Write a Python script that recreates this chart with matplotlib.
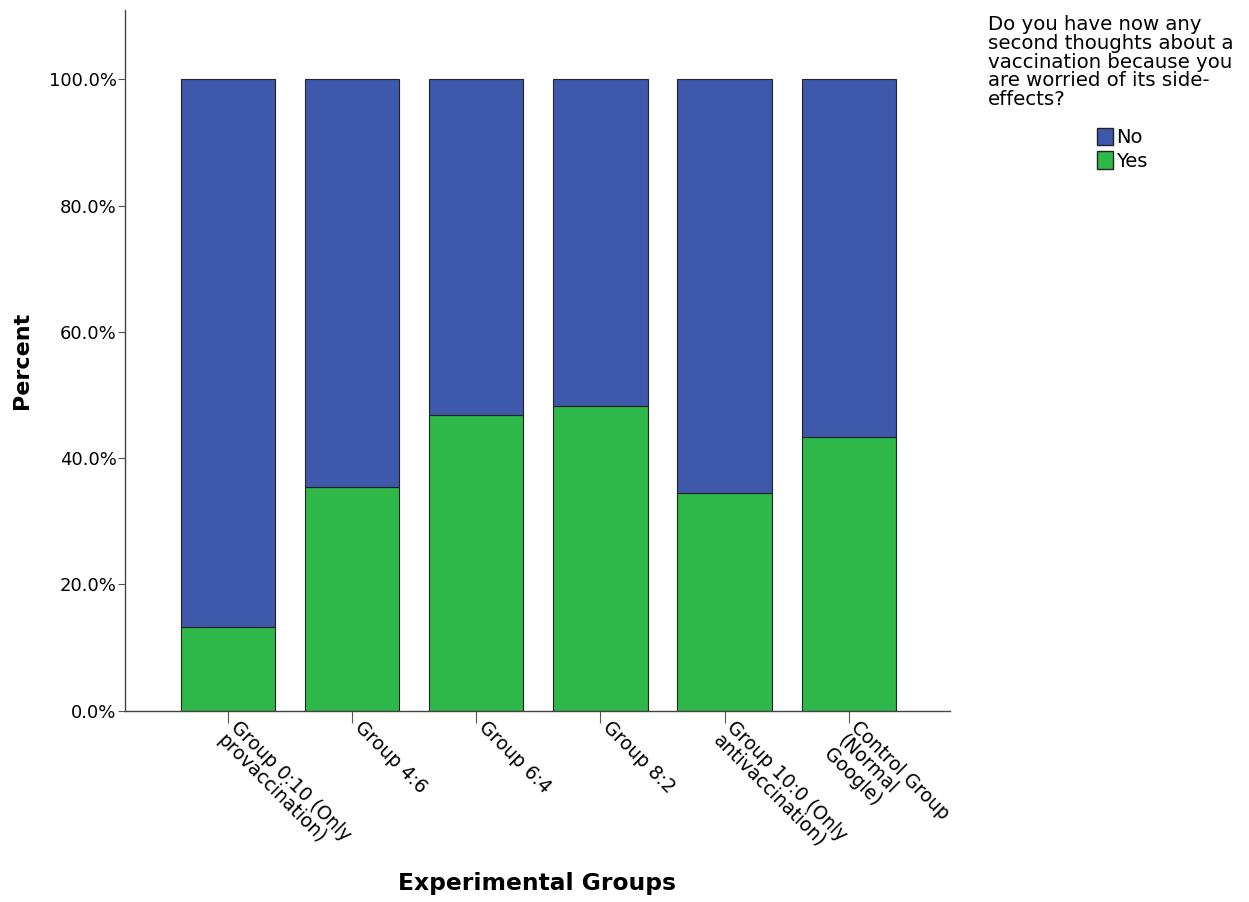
import matplotlib.pyplot as plt
from matplotlib.patches import Patch
from matplotlib.ticker import FuncFormatter
from matplotlib.transforms import ScaledTranslation

groups = ["Group 0:10 (Only\nprovaccination)", "Group 4:6", "Group 6:4", "Group 8:2",
          "Group 10:0 (Only\nantivaccination)", "Control Group\n(Normal\nGoogle)"]
yes_pct = [13.3, 35.4, 46.8, 48.3, 34.5, 43.4]
no_pct = [100 - v for v in yes_pct]

blue = "#3E58AC"
green = "#2EB84A"

fig = plt.figure(figsize=(12.49, 9.02), dpi=100)
ax = fig.add_axes([0.1, 0.212, 0.661, 0.777])

x = range(len(groups))
ax.bar(x, yes_pct, width=0.76, color=green, edgecolor="#222222", linewidth=0.8)
ax.bar(x, no_pct, width=0.76, bottom=yes_pct, color=blue, edgecolor="#222222", linewidth=0.8)

ax.set_xlim(-0.83, 5.82)
ax.set_ylim(0, 111)
ax.set_yticks([0, 20, 40, 60, 80, 100])
ax.yaxis.set_major_formatter(FuncFormatter(lambda v, p: "%.1f%%" % v))
ax.set_xticks(list(x))
ax.set_xticklabels(groups, rotation=-45, ha="left", va="top", rotation_mode="anchor",
                   multialignment="left", fontsize=13.5, linespacing=1.0)
ax.tick_params(axis="y", labelsize=13, length=5, color="#555555", pad=1)
ax.tick_params(axis="x", length=8.5, color="#555555", pad=2)

# shift the rotated labels so they start just right of the tick, like the original
offset = ScaledTranslation(0.12, 0.08, fig.dpi_scale_trans)
for lab in ax.get_xticklabels():
    lab.set_transform(lab.get_transform() + offset)

for s in ["top", "right"]:
    ax.spines[s].set_visible(False)
for s in ["left", "bottom"]:
    ax.spines[s].set_color("#444444")
    ax.spines[s].set_linewidth(1)

ax.set_ylabel("Percent", fontsize=16, fontweight="bold")
ax.yaxis.set_label_coords(-0.113, 0.5)
fig.text(0.43, 0.008, "Experimental Groups", fontsize=16.8, fontweight="bold", ha="center", va="bottom")

fig.text(0.791, 0.983, "Do you have now any\nsecond thoughts about a\nvaccination because you\nare worried of its side-\neffects?",
         fontsize=14.2, ha="left", va="top", linespacing=0.98)
handles = [Patch(facecolor=blue, edgecolor="#222222", label="No"),
           Patch(facecolor=green, edgecolor="#222222", label="Yes")]
fig.legend(handles=handles, loc="upper left", bbox_to_anchor=(0.878, 0.858), frameon=False,
           fontsize=14, handlelength=0.85, handleheight=1.0, handletextpad=0.15,
           labelspacing=0.2, borderaxespad=0, borderpad=0)

fig.savefig("out.png", dpi=100)
